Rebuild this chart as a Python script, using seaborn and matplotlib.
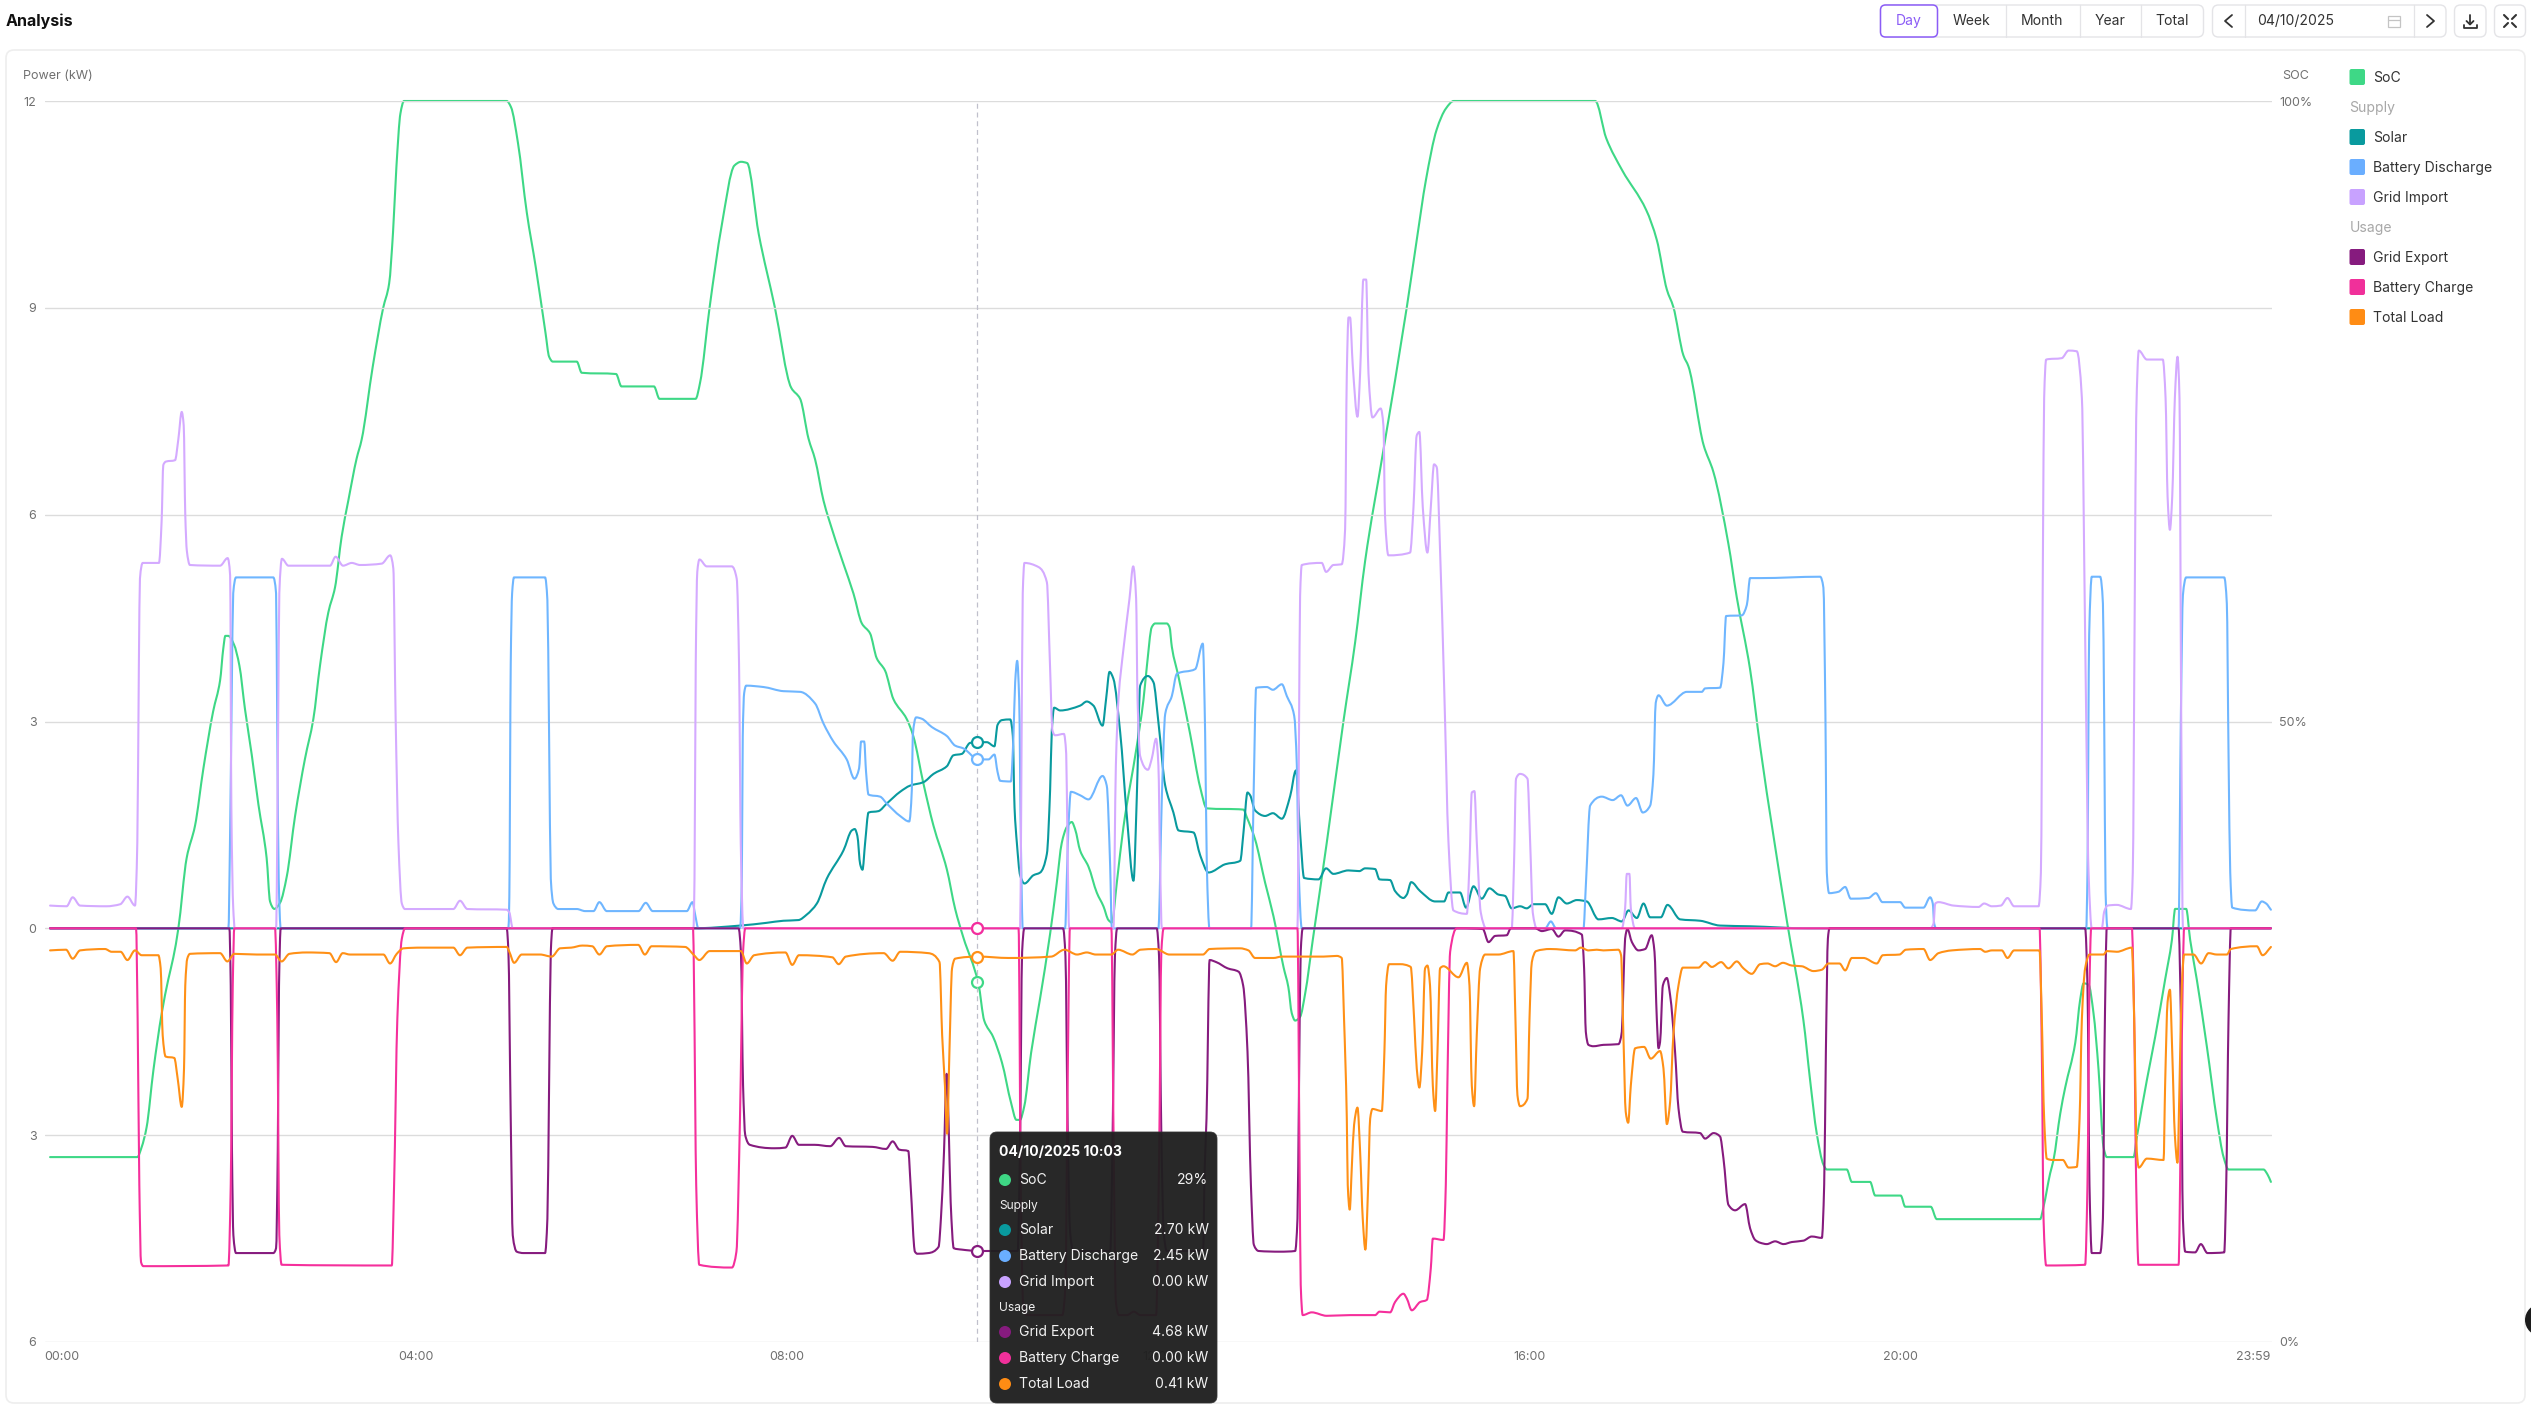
import numpy as np
import seaborn as sns
import matplotlib.pyplot as plt
from matplotlib.patches import FancyBboxPatch, Rectangle, Circle
from matplotlib.patheffects import AbstractPathEffect
from matplotlib.path import Path

W, H = 2531, 1408

# times are minutes after midnight
soc_t = [3.6, 60, 62.8, 66, 70.4, 75.8, 80, 83.3, 86.5, 91.9, 97.3, 102.7, 109, 113.5, 115.6, 116.9, 118.8, 122.5, 126, 129.6, 134, 138.3, 143.6, 145.8, 148.6, 152.3, 156.6, 162, 168.4, 173.8, 178.1, 183.5, 187.8, 192.1, 196.4, 201.8, 205, 212.2, 218.9, 222.8, 225.3, 227.5, 230.1, 232.4, 298.8, 301.6, 306.1, 311.8, 317.6, 323.9, 326.2, 328.6, 344.1, 347.3, 369.5, 373, 394, 397.6, 420.9, 423.8, 430, 437.7, 446, 450.3, 454.2, 461.7, 472.1, 482.7, 488.5, 493.9, 498.2, 503.6, 506.8, 516.5, 523, 528.4, 533.7, 538, 543.4, 548.8, 557.4, 561.7, 568.2, 574.7, 583.3, 588.7, 594, 603.7, 607.5, 613.2, 619, 624.8, 628.3, 630.6, 633.4, 637.8, 643.5, 650.1, 654.4, 657.6, 660.9, 664.1, 666.3, 669.5, 674.9, 680.3, 684.6, 687.8, 690, 693.2, 697.5, 706.1, 710.4, 712.6, 715.8, 718, 725.5, 727.3, 728.8, 733.1, 740.6, 747.1, 751.4, 775.1, 777.2, 782.6, 789.1, 794.5, 801, 804.1, 806.3, 808.5, 811.7, 815, 819.9, 828.9, 839.7, 847.3, 853.7, 865.6, 880.7, 887.1, 893, 900, 906, 911, 1002.5, 1009.6, 1020, 1035.5, 1042.3, 1048.8, 1053, 1059.5, 1062.8, 1072.5, 1078.9, 1088.6, 1094, 1102.6, 1109.1, 1126.3, 1137.1, 1141.4, 1145.7, 1150, 1152.2, 1165.1, 1168.4, 1180.2, 1183.5, 1200, 1202.9, 1219.4, 1223.3, 1290.1, 1292.3, 1296.6, 1298.8, 1303.1, 1306.3, 1312.8, 1316, 1318.2, 1321.4, 1324.6, 1327.9, 1331.1, 1333.2, 1350.5, 1352.6, 1359.1, 1364.5, 1370.9, 1375.3, 1377.4, 1384.5, 1387.1, 1391.4, 1397.9, 1404.4, 1408.7, 1411.9, 1434.5, 1437.1, 1439.3]
soc_pct = [14.9, 14.9, 15.7, 17.3, 21.9, 26.5, 29.2, 31, 33.3, 39, 41.6, 46.2, 50.8, 53.3, 55.9, 56.9, 56.9, 56.2, 54.5, 51, 47.3, 43.3, 39, 35.5, 34.9, 35.4, 37.5, 42.4, 47, 50.2, 54.5, 58.8, 60.8, 64.9, 67.8, 71.2, 72.7, 78.6, 83.3, 85.3, 89.4, 94.7, 99, 100, 100, 99.5, 96.6, 91, 86.6, 81.3, 79.4, 79, 79, 78.1, 78, 77, 77, 76, 76, 77.3, 83.4, 89.9, 94.8, 95.1, 95, 89.3, 83.4, 76.9, 76, 72.8, 71.1, 67.8, 66.4, 62.7, 60.3, 57.9, 57.1, 55.1, 54.1, 51.8, 50.2, 48.8, 45, 41.6, 38.1, 34.9, 32.6, 28.9, 25.9, 24.6, 22.5, 19.3, 17.9, 17.9, 19, 23.3, 27.6, 32.9, 37, 40.2, 41.5, 41.9, 41.3, 39.6, 38.3, 36.2, 35.1, 34, 33.8, 37, 41.5, 48, 51.7, 54.4, 57.6, 57.9, 57.9, 57.6, 56, 53.6, 49, 44.7, 43, 42.9, 42.3, 40.5, 37, 34.3, 30.2, 28.6, 26.5, 25.9, 26.2, 28.1, 32.4, 40.2, 50, 56.4, 62.9, 71.9, 83.4, 88.8, 93.6, 97.7, 99.4, 100, 100, 97, 94.4, 91.2, 88.8, 84.8, 83.4, 79.5, 78.6, 72.3, 70.1, 64.3, 60, 54.2, 48, 34, 25.9, 21.1, 16.8, 14.3, 13.9, 13.9, 12.9, 12.9, 11.8, 11.8, 10.9, 10.9, 9.9, 9.9, 10.9, 13.6, 14.7, 18.4, 20.5, 24.1, 27.6, 28.9, 28.8, 26.5, 21.9, 15.7, 14.9, 14.9, 16.5, 21.1, 24.6, 29.2, 32.4, 34.9, 34.9, 32.4, 29.2, 23.8, 17.9, 14.9, 13.9, 13.9, 13.5, 12.9]

solar_t = [3.6, 419.5, 449.7, 466.9, 477.7, 487.4, 492.8, 499.3, 505.7, 516.5, 521.9, 523.8, 525.5, 527.3, 528.8, 530.5, 532.7, 539.1, 544.5, 553.1, 559.6, 568.2, 574.7, 583.3, 587.6, 593, 598.4, 603.8, 609.2, 614.1, 616.1, 618.9, 624.3, 626, 627.1, 628.6, 630.7, 633.5, 639.3, 643.7, 648, 650.1, 651.2, 652.7, 656.6, 669.5, 673.8, 678.1, 684, 686.3, 688.5, 691, 695.4, 699.7, 704, 706.1, 708.3, 713.3, 716.9, 720.1, 724.5, 729.8, 733.1, 742.8, 747.1, 752.5, 763.3, 773, 775.1, 777.7, 779.4, 782.6, 789.1, 794.1, 799.9, 805.3, 809, 811.7, 814.3, 823.6, 828.5, 833.2, 842.9, 850, 853.7, 860.2, 863, 869.9, 873.1, 878.5, 880.7, 883.5, 889.3, 899, 904.8, 907.6, 915.1, 919, 923.8, 929.1, 934.1, 939.9, 944.2, 948.5, 953.9, 958.2, 962.6, 970.1, 974.4, 978.7, 984.1, 990.6, 997, 1004.6, 1013.2, 1019.7, 1024, 1029.4, 1033.7, 1038, 1044.9, 1049.2, 1057.4, 1070.3, 1083.2, 1102.6, 1140, 1439.3]
solar_kw = [0, 0, 0.04, 0.08, 0.11, 0.12, 0.2, 0.36, 0.72, 1.13, 1.42, 1.44, 1.34, 0.93, 0.85, 1.24, 1.68, 1.7, 1.81, 1.98, 2.07, 2.12, 2.24, 2.35, 2.51, 2.53, 2.69, 2.7, 2.7, 2.64, 2.95, 3.02, 3.03, 2.79, 1.75, 1.24, 0.77, 0.65, 0.77, 0.81, 1.08, 2.01, 2.87, 3.2, 3.16, 3.23, 3.29, 3.23, 2.94, 3.33, 3.72, 3.62, 2.84, 1.63, 0.69, 1.88, 3.52, 3.66, 3.57, 2.99, 2.07, 1.68, 1.42, 1.39, 1.06, 0.81, 0.93, 0.98, 1.39, 1.97, 1.93, 1.71, 1.63, 1.67, 1.59, 1.92, 2.29, 1.39, 0.73, 0.71, 0.87, 0.79, 0.84, 0.83, 0.87, 0.86, 0.71, 0.7, 0.54, 0.44, 0.49, 0.67, 0.54, 0.39, 0.39, 0.52, 0.52, 0.3, 0.61, 0.43, 0.58, 0.49, 0.47, 0.29, 0.32, 0.29, 0.35, 0.35, 0.21, 0.45, 0.36, 0.41, 0.39, 0.13, 0.15, 0.1, 0.26, 0.15, 0.36, 0.16, 0.16, 0.34, 0.13, 0.11, 0.04, 0.03, 0, 0]

discharge_t = [3.6, 118.9, 119.9, 121, 122, 123.8, 147.9, 149.7, 150.5, 151.4, 152.7, 299.9, 300.5, 301.4, 302.3, 303.5, 323.6, 325.1, 326.2, 327.3, 329, 332.2, 344.1, 349.5, 354.9, 358.7, 363.5, 384, 388.7, 393.2, 415.2, 418.9, 420.6, 422.7, 449.7, 450.8, 451.4, 452.3, 453.6, 464.8, 477.7, 488.5, 498.2, 503.6, 510, 518.6, 523.6, 526.6, 527.9, 529.9, 531.1, 532.7, 540.2, 544.5, 553.1, 559, 560.7, 561.3, 563.5, 567.1, 573.6, 583.3, 588.7, 594, 603.8, 610.2, 614.1, 616.1, 617.8, 624.7, 626.4, 627.5, 628.8, 630.1, 631.2, 632.4, 659.8, 660.9, 662, 663.5, 669.5, 674.9, 684, 686.7, 688.9, 690, 720.1, 722.3, 724.5, 728.8, 732, 743.9, 748.8, 750.3, 751.4, 753.1, 780, 781.6, 783.3, 790.2, 794.1, 799.9, 803.1, 807.9, 809.6, 810.7, 812.8, 970.1, 973.8, 977.2, 994.9, 996.4, 999.2, 1006.7, 1013.8, 1019.2, 1023.3, 1028.9, 1033.2, 1038, 1040.1, 1041.6, 1043.4, 1048.8, 1061.7, 1071.4, 1073.5, 1083.2, 1085.4, 1087.1, 1097.3, 1100.5, 1102.6, 1109.1, 1147.9, 1150, 1151.3, 1152.2, 1153.7, 1159.7, 1164.1, 1167.7, 1179.1, 1183.9, 1188.2, 1199.6, 1202.9, 1214.7, 1219, 1220.7, 1221.6, 1222.9, 1319.9, 1320.7, 1321.8, 1323.5, 1328.9, 1330.7, 1331.5, 1332.4, 1333.7, 1379.6, 1381.1, 1382.4, 1384.5, 1409.1, 1410.8, 1411.9, 1413, 1414.3, 1429.1, 1433.4, 1436.2, 1439.3]
discharge_kw = [0, 0, 1.24, 3.31, 4.86, 5.09, 5.09, 4.86, 2.79, 0.72, 0, 0, 0.46, 3.83, 4.86, 5.09, 5.09, 4.76, 2.79, 0.72, 0.36, 0.28, 0.28, 0.25, 0.25, 0.38, 0.25, 0.25, 0.37, 0.25, 0.25, 0.38, 0.2, 0, 0, 0.72, 2.79, 3.41, 3.52, 3.5, 3.44, 3.43, 3.26, 2.97, 2.71, 2.45, 2.17, 2.32, 2.71, 2.71, 2.27, 1.94, 1.91, 1.81, 1.63, 1.55, 2.01, 2.79, 3.06, 3.04, 2.92, 2.79, 2.65, 2.61, 2.45, 2.45, 2.52, 2.27, 2.14, 2.13, 2.79, 3.57, 3.88, 3.31, 1.24, 0, 0, 0.72, 1.5, 1.98, 1.93, 1.87, 2.21, 2.07, 0.91, 0, 0, 1.88, 3.11, 3.37, 3.69, 3.76, 4.13, 2.84, 0.91, 0, 0, 1.88, 3.49, 3.5, 3.46, 3.54, 3.37, 3.08, 2.36, 0.91, 0, 0, 0.1, 0, 0, 0.61, 1.78, 1.91, 1.86, 1.93, 1.78, 1.89, 1.68, 1.78, 2.23, 3.27, 3.38, 3.23, 3.43, 3.43, 3.48, 3.49, 3.85, 4.53, 4.54, 4.69, 5.08, 5.08, 5.1, 4.94, 3.1, 0.81, 0.51, 0.53, 0.6, 0.43, 0.44, 0.51, 0.38, 0.38, 0.3, 0.3, 0.45, 0.36, 0.07, 0, 0, 0.81, 4.25, 5.1, 5.1, 4.71, 3.1, 0.53, 0, 0, 3.1, 4.83, 5.09, 5.09, 4.71, 2.53, 0.81, 0.3, 0.26, 0.39, 0.36, 0.27]

grid_import_t = [3.6, 14.3, 18.2, 23, 40, 49, 53.6, 58.5, 60, 61, 61.7, 63.5, 74, 75.7, 76.8, 78.5, 84.4, 86.5, 88.7, 90, 91, 92, 94, 113.5, 118.4, 120, 120.8, 122, 123, 149.7, 151, 151.8, 153.5, 157.7, 184.6, 188.2, 193, 198.6, 204, 218, 223.5, 225.5, 227, 228.8, 231, 233, 264.3, 268.6, 273.4, 298.8, 300.5, 302.7, 419.5, 420.2, 421, 422, 423.4, 428.1, 444.3, 447.5, 449, 450.1, 451.8, 630.7, 631.4, 632.4, 633.5, 642.6, 648, 650, 651.6, 653.3, 659, 660.5, 661.3, 662.4, 691, 692.6, 694.3, 697.5, 701.4, 703.8, 705.7, 706.6, 708.3, 713.3, 715.8, 718.6, 720.1, 721.2, 722.3, 810, 811, 811.7, 812.8, 825.7, 828.5, 833.2, 838.6, 840.8, 841.9, 843, 844, 845.7, 848.8, 850.5, 852.6, 854.4, 855.9, 858.5, 863.8, 865.6, 866.6, 868.8, 882.8, 885, 887.1, 888.8, 891, 894, 896.2, 898.3, 900, 902.2, 904.8, 907.6, 910.8, 919.5, 921.2, 922.7, 924.4, 925.9, 928.5, 932, 948.5, 950, 951.3, 953.9, 958.7, 960.4, 962.1, 964.7, 1019.7, 1021.8, 1022.9, 1024.6, 1025.5, 1028.3, 1219, 1221.2, 1222.3, 1224.4, 1234.1, 1250.3, 1253.9, 1258.9, 1264.7, 1269, 1273.3, 1289.1, 1290.6, 1291.9, 1292.7, 1294, 1304.1, 1308.5, 1313.8, 1317.1, 1319.2, 1321.4, 1323.5, 1330, 1331.5, 1333.7, 1339.7, 1348.8, 1350, 1351.3, 1352.2, 1353.9, 1359.1, 1369.4, 1371.2, 1372.5, 1374, 1375.5, 1377.2, 1378.9, 1380.2, 1381.3, 1382.4, 1439.3]
grid_import_kw = [0.33, 0.32, 0.45, 0.33, 0.32, 0.35, 0.46, 0.33, 1.24, 3.8, 5.07, 5.3, 5.3, 5.9, 6.72, 6.77, 6.79, 7.09, 7.49, 7.29, 6, 5.48, 5.27, 5.26, 5.37, 5.12, 1.75, 0.3, 0, 0, 2.8, 4.86, 5.36, 5.26, 5.26, 5.39, 5.26, 5.3, 5.27, 5.29, 5.41, 5.22, 3.05, 1.24, 0.36, 0.28, 0.28, 0.4, 0.28, 0.27, 0.23, 0, 0, 0.72, 3.83, 5.17, 5.35, 5.25, 5.25, 5.07, 3.83, 1.24, 0, 0, 1.75, 4.86, 5.3, 5.24, 5.02, 3.83, 2.87, 2.8, 2.82, 2.53, 1.24, 0, 0, 2.36, 3.33, 4.05, 4.78, 5.25, 4.78, 3.33, 2.5, 2.3, 2.46, 2.75, 2.36, 0.91, 0, 0, 2.88, 4.82, 5.27, 5.3, 5.17, 5.27, 5.28, 5.79, 8.05, 8.86, 8.86, 8.18, 7.42, 8.05, 9.41, 9.41, 8.05, 7.41, 7.54, 7.28, 5.98, 5.41, 5.45, 6.11, 7.15, 7.2, 6.11, 5.45, 6.11, 6.73, 6.69, 5.47, 3.53, 1.26, 0.26, 0.21, 0.94, 1.97, 1.99, 1.26, 0.23, 0, 0, 0.94, 2.17, 2.24, 2.17, 1.26, 0.23, 0, 0, 0.29, 0.79, 0.79, 0.29, 0, 0, 0.07, 0.36, 0.38, 0.33, 0.31, 0.36, 0.32, 0.33, 0.44, 0.32, 0.32, 0.81, 5.4, 7.69, 8.25, 8.27, 8.38, 8.37, 7.69, 4.25, 0.81, 0, 0, 0.24, 0.33, 0.34, 0.28, 0.81, 4.83, 7.4, 8.38, 8.25, 8.25, 7.69, 6.26, 5.78, 6.26, 7.69, 8.29, 7.69, 3.1, 0, 0]

grid_export_t = [3.6, 119.5, 120.4, 121.2, 122.1, 123.8, 147.9, 149.7, 150.8, 151.6, 152.7, 298.8, 299.9, 301.4, 302.7, 305.3, 309.6, 323.6, 325.1, 326.2, 327.3, 328.4, 448.7, 450.2, 451.6, 453, 456, 471.8, 479, 483.4, 487.7, 497.8, 507.9, 513.7, 518, 535.3, 544, 548.3, 552.6, 558.4, 559.9, 562.7, 564.2, 571.4, 578, 579.5, 581.5, 583.2, 584.4, 585.8, 587.8, 593, 603.7, 629.1, 630.6, 632, 633.4, 658.5, 660, 661.5, 663, 665, 689, 690.5, 692, 693.4, 719, 720.5, 722, 723.5, 725.5, 749, 750, 751.2, 753.2, 757.5, 764.8, 772, 774.9, 777.7, 779.9, 781.8, 784.9, 798.8, 808.5, 810, 811, 812.1, 813.4, 915.1, 929.8, 933.5, 937.8, 945.3, 947.9, 963.6, 968, 974.4, 978.7, 983, 993.8, 995.3, 996.4, 998.1, 1001.3, 1007.8, 1017.5, 1019.7, 1020.7, 1021.8, 1023.3, 1026.2, 1030.4, 1034.8, 1039, 1040.8, 1042.3, 1043.4, 1044.4, 1046.2, 1048.8, 1050.9, 1054.1, 1056.3, 1059.1, 1070.3, 1073.5, 1079, 1083.2, 1085.4, 1088.6, 1092.9, 1099.4, 1102.6, 1105.9, 1109.1, 1113.4, 1118.8, 1124.2, 1129.6, 1137.1, 1142.5, 1149, 1150.5, 1151.6, 1152.9, 1153.9, 1319.2, 1320.7, 1322, 1323.5, 1328.9, 1330.7, 1331.7, 1333.2, 1379.6, 1381.1, 1382.4, 1383.9, 1390.3, 1394, 1398.3, 1409.1, 1410.4, 1411.9, 1413.4, 1439.3]
grid_export_kw = [0, 0, -0.83, -3.24, -4.45, -4.71, -4.71, -4.64, -3.24, -0.83, 0, 0, -0.34, -2.76, -4.45, -4.69, -4.71, -4.71, -4.21, -2.28, -0.34, 0, 0, -0.34, -2.28, -3, -3.14, -3.19, -3.18, -3.01, -3.14, -3.14, -3.16, -3.04, -3.16, -3.17, -3.2, -3.09, -3.21, -3.23, -3.72, -4.69, -4.72, -4.71, -4.62, -4.21, -3.24, -2.11, -2.76, -3.97, -4.64, -4.66, -4.68, -4.68, -3.24, -0.34, 0, 0, -0.4, -3, -4.4, -4.68, -4.68, -3, -0.4, 0, 0, -0.4, -3, -4.4, -4.68, -4.68, -3.5, -2.76, -0.46, -0.49, -0.58, -0.63, -0.83, -1.79, -3.72, -4.59, -4.68, -4.69, -4.68, -4.21, -2.28, -0.34, 0, 0, -0.01, -0.2, -0.11, -0.1, 0, 0, -0.04, -0.01, -0.12, -0.03, -0.09, -0.58, -1.5, -1.69, -1.71, -1.69, -1.68, -1.5, -0.83, -0.15, -0.01, -0.2, -0.32, -0.3, -0.1, -0.34, -1.31, -1.74, -1.65, -0.83, -0.72, -0.97, -1.79, -2.61, -2.95, -2.97, -3.05, -2.97, -3.02, -3.34, -4.01, -4.09, -4, -4.35, -4.52, -4.56, -4.58, -4.54, -4.58, -4.55, -4.53, -4.47, -4.49, -3.72, -1.79, -0.15, 0, 0, -0.83, -3.72, -4.71, -4.71, -4.21, -1.79, 0, 0, -1.31, -4.21, -4.69, -4.7, -4.58, -4.71, -4.7, -3.72, -1.31, 0, 0]

battery_charge_t = [3.6, 59.2, 60.2, 61.3, 62.4, 63.9, 118.9, 120.4, 121.7, 122.7, 149, 150.5, 151.8, 153.3, 224.5, 226, 228.1, 231, 233.1, 419.3, 419.9, 421.3, 423.3, 444.4, 447.3, 449.6, 451.6, 453, 629.7, 631.1, 632.6, 634.9, 658, 660, 661.4, 662.9, 689.7, 691.2, 692.6, 694.6, 699.8, 704.2, 708.5, 718.6, 720.6, 722, 723.5, 810, 811.3, 812.1, 813.4, 819.2, 828.9, 844, 860.2, 863, 869.9, 873.1, 878.5, 880.7, 883.9, 889.3, 893.6, 896.2, 897.5, 904.4, 905.9, 906.9, 908.7, 913, 1289.7, 1291.2, 1292.3, 1294, 1319.2, 1320.7, 1322, 1323.1, 1349.4, 1350.9, 1352.2, 1353.7, 1379.6, 1381.1, 1382.4, 1383.2, 1439.3]
battery_charge_kw = [0, 0, -1.31, -3.72, -4.84, -4.9, -4.89, -3.72, -0.83, 0, 0, -1.31, -4.45, -4.88, -4.89, -3.72, -1.31, -0.15, 0, 0, -0.83, -3.72, -4.88, -4.92, -4.69, -2.76, -0.34, 0, 0, -3.72, -5.42, -5.61, -5.61, -5.17, -2.28, 0, 0, -3.24, -5.42, -5.61, -5.61, -5.56, -5.61, -5.61, -3.24, -0.34, 0, 0, -3.24, -5.17, -5.61, -5.57, -5.62, -5.61, -5.61, -5.56, -5.57, -5.42, -5.3, -5.37, -5.54, -5.42, -5.39, -4.93, -4.5, -4.52, -3.72, -2.28, -0.34, 0, 0, -1.79, -4.21, -4.89, -4.88, -3.72, -0.83, 0, 0, -1.31, -3.72, -4.88, -4.88, -2.76, -0.58, 0, 0]

total_load_t = [3.6, 13.9, 18.2, 23, 39.1, 43.4, 49.2, 53.6, 58.5, 62.8, 73.6, 75.1, 76.4, 78.3, 83.9, 86.1, 88.7, 90.2, 91, 92.3, 94, 113.5, 118.2, 122.7, 137.2, 149, 153.3, 158.3, 169.5, 184.2, 188.5, 192.8, 197.5, 219.1, 223.4, 227.7, 232, 243.8, 264.3, 268.6, 273.4, 298.8, 300.5, 303.6, 308.5, 320.4, 327.9, 333.3, 340.5, 347.7, 354.1, 358.7, 363.6, 383.8, 388.1, 392.5, 414.1, 419.9, 423.3, 430, 450.2, 454, 458.8, 479, 483.4, 487.7, 509.3, 513.4, 518, 542.5, 548.3, 553.2, 571.4, 578.6, 580.3, 582.1, 583.5, 585, 586.7, 588.7, 603.7, 623.3, 650.8, 659.4, 667.5, 673.8, 679.6, 689.7, 694, 703.3, 708.5, 718.6, 727.2, 748.9, 753.2, 772.9, 778.3, 782.6, 794.5, 799.8, 826.8, 835.4, 838.6, 840.1, 841.9, 842.5, 843.8, 845.1, 846.6, 848.8, 850.5, 852.2, 853.9, 855.7, 857, 858.5, 864.5, 866.2, 867.3, 869.2, 876.3, 883.2, 885.4, 887.1, 888.8, 890.6, 892.5, 894, 895.7, 897.5, 899, 900.5, 902.2, 904.4, 914.1, 919.5, 921.2, 922.7, 924.2, 925.9, 928.1, 931.3, 939.9, 949.6, 950.9, 952.2, 953.9, 958.7, 960, 961.5, 964.3, 973.3, 989.5, 993.2, 998.1, 1003.5, 1007.8, 1017.5, 1019.2, 1020.7, 1022.2, 1023.8, 1025.5, 1028.3, 1034.1, 1038.4, 1044.4, 1046.6, 1048.8, 1050.9, 1053, 1056.3, 1059.1, 1069.2, 1073.5, 1077.9, 1083.9, 1088.6, 1094, 1098.3, 1103.7, 1109.1, 1113.8, 1118.8, 1123.8, 1129.6, 1136, 1143.6, 1149, 1153.3, 1160.4, 1164.1, 1168.4, 1175.9, 1184.5, 1188.4, 1199.2, 1203.3, 1214.7, 1219, 1224.4, 1233, 1251.3, 1254.6, 1258.9, 1265.3, 1269, 1273.3, 1289.7, 1291.2, 1292.7, 1294.4, 1298.3, 1304.8, 1308.5, 1313.8, 1315.6, 1317.1, 1319.2, 1322, 1331.1, 1333.2, 1339.7, 1349.4, 1350.9, 1352.6, 1353.9, 1359.1, 1369.9, 1370.9, 1372.5, 1374, 1375.5, 1377.2, 1378.9, 1380.2, 1381.7, 1383.2, 1389.3, 1394.2, 1399, 1404.4, 1410.8, 1413.4, 1430.2, 1433.9, 1439.3]
total_load_kw = [-0.32, -0.31, -0.44, -0.32, -0.3, -0.34, -0.34, -0.46, -0.32, -0.39, -0.39, -0.58, -1.55, -1.86, -1.88, -2.18, -2.59, -2.03, -0.83, -0.44, -0.37, -0.36, -0.48, -0.37, -0.38, -0.38, -0.48, -0.37, -0.35, -0.36, -0.49, -0.36, -0.38, -0.38, -0.51, -0.37, -0.29, -0.28, -0.28, -0.39, -0.28, -0.27, -0.34, -0.5, -0.38, -0.38, -0.41, -0.29, -0.28, -0.25, -0.26, -0.38, -0.26, -0.24, -0.38, -0.26, -0.27, -0.39, -0.46, -0.33, -0.33, -0.51, -0.39, -0.35, -0.53, -0.39, -0.42, -0.52, -0.41, -0.36, -0.47, -0.34, -0.36, -0.49, -1.55, -2.28, -2.98, -1.79, -0.58, -0.44, -0.41, -0.43, -0.41, -0.31, -0.38, -0.35, -0.38, -0.38, -0.31, -0.38, -0.31, -0.3, -0.38, -0.38, -0.3, -0.29, -0.32, -0.43, -0.43, -0.41, -0.41, -0.4, -0.43, -1.31, -2.76, -3.72, -4.08, -3.48, -2.85, -2.6, -3.24, -4.21, -4.66, -3.72, -2.76, -2.62, -2.65, -1.79, -0.83, -0.52, -0.52, -0.56, -1.31, -2.03, -2.31, -1.79, -0.58, -0.54, -0.83, -2.28, -2.65, -1.79, -0.58, -0.55, -0.71, -0.5, -0.83, -2.28, -2.58, -1.55, -0.58, -0.38, -0.38, -0.33, -1.31, -2.42, -2.58, -2.47, -1.31, -0.49, -0.33, -0.3, -0.32, -0.28, -0.32, -0.31, -0.32, -0.31, -0.39, -1.55, -2.66, -2.82, -2.28, -1.74, -1.72, -1.89, -1.78, -2.03, -2.84, -2.52, -1.55, -0.83, -0.57, -0.57, -0.49, -0.56, -0.49, -0.58, -0.48, -0.58, -0.66, -0.52, -0.51, -0.55, -0.5, -0.54, -0.55, -0.62, -0.6, -0.51, -0.51, -0.61, -0.43, -0.43, -0.51, -0.39, -0.38, -0.31, -0.3, -0.46, -0.36, -0.32, -0.3, -0.34, -0.32, -0.32, -0.43, -0.32, -0.32, -1.31, -2.76, -3.34, -3.36, -3.36, -3.47, -3.46, -2.76, -1.31, -0.58, -0.38, -0.38, -0.33, -0.34, -0.28, -1.31, -3.24, -3.47, -3.34, -3.36, -2.28, -1.07, -0.89, -1.79, -3, -3.4, -2.28, -0.83, -0.38, -0.38, -0.51, -0.36, -0.38, -0.38, -0.3, -0.26, -0.39, -0.27]

power_ticks = [12, 9, 6, 3, 0, -3, -6]
power_labels = ["12", "9", "6", "3", "0", "3", "6"]
soc_ticks = [100, 50, 0]
soc_labels = ["100%", "50%", "0%"]
time_ticks = [0, 240, 480, 720, 960, 1200, 1439]
time_labels = ["00:00", "04:00", "08:00", "12:00", "16:00", "20:00", "23:59"]

hover_time = 603
hover_soc = 29
hover_solar = 2.70
hover_discharge = 2.45
hover_import = 0.00
hover_export = 4.68
hover_charge = 0.00
hover_load = 0.41

GREEN = "#3ed886"
TEAL = "#099a9e"
BLUE = "#6fb6ff"
LILAC = "#d4aaff"
PLUM = "#861b7e"
PINK = "#f52f9c"
ORANGE = "#ff9016"
LW = 1.5


class MonotoneCurve(AbstractPathEffect):
    # strokes the line as a monotone cubic through its own points, as the dashboard does
    def draw_path(self, renderer, gc, tpath, affine, rgbFace=None):
        x, y = tpath.vertices.T
        h = np.maximum(np.diff(x), 1e-6)
        s = np.diff(y) / h
        m = np.zeros_like(x)
        m[0], m[-1] = s[0], s[-1]
        for i in range(1, len(x) - 1):
            if s[i - 1] * s[i] > 0:
                w1, w2 = 2 * h[i] + h[i - 1], h[i] + 2 * h[i - 1]
                m[i] = (w1 + w2) / (w1 / s[i - 1] + w2 / s[i])
        verts = [(x[0], y[0])]
        codes = [Path.MOVETO]
        for i in range(len(h)):
            d = h[i] / 3
            verts += [(x[i] + d, y[i] + m[i] * d), (x[i + 1] - d, y[i + 1] - m[i + 1] * d), (x[i + 1], y[i + 1])]
            codes += [Path.CURVE4] * 3
        renderer.draw_path(gc, Path(verts, codes), affine, None)


sns.set_theme(style="white")
plt.rcParams["font.family"] = ["Inter", "Noto Sans", "DejaVu Sans"]


def px(size):
    return size * 0.72


fig = plt.figure(figsize=(W / 100, H / 100), dpi=100, facecolor="white")
ax = fig.add_axes([44.5 / W, 1 - 1342 / H, 2227.5 / W, 1241 / H])
ax2 = ax.twinx()
ax.set_zorder(ax2.get_zorder() + 1)
ax.patch.set_visible(False)

# SoC has its own 0-100% axis, the power axis runs -6..12
sns.lineplot(x=soc_t, y=soc_pct, ax=ax2, color=GREEN, linewidth=LW, clip_on=False)
ax2.lines[-1].set_path_effects([MonotoneCurve()])
for t, v, c in [(solar_t, solar_kw, TEAL), (discharge_t, discharge_kw, BLUE),
                (grid_import_t, grid_import_kw, LILAC), (grid_export_t, grid_export_kw, PLUM),
                (battery_charge_t, battery_charge_kw, PINK), (total_load_t, total_load_kw, ORANGE)]:
    sns.lineplot(x=t, y=v, ax=ax, color=c, linewidth=LW, clip_on=False)
    ax.lines[-1].set_path_effects([MonotoneCurve()])

ax.set_xlim(0, 1440)
ax.set_ylim(-6, 12)
ax2.set_ylim(0, 100)
ax.set_xlabel("")
ax.set_ylabel("")
ax.set_yticks(power_ticks)
ax.set_yticklabels(power_labels)
ax.set_xticks(time_ticks)
ax.set_xticklabels(time_labels)
ax.get_xticklabels()[0].set_ha("left")
ax.get_xticklabels()[-1].set_ha("right")
ax2.set_yticks(soc_ticks)
ax2.set_yticklabels(soc_labels)
ax.grid(axis="y", color="#dcdcdc", linewidth=1)
ax.set_axisbelow(True)
ax.tick_params(axis="y", length=0, pad=5.8, labelsize=px(12.5), labelcolor="#707070")
ax.tick_params(axis="x", length=0, pad=6.5, labelsize=px(12.5), labelcolor="#707070")
ax2.tick_params(axis="y", length=0, pad=5, labelsize=px(12.5), labelcolor="#707070")
for a in (ax, ax2):
    sns.despine(ax=a, left=True, bottom=True, right=True, top=True)

# hovered time
ax.axvline(hover_time, color="#c0c0cc", linewidth=0.9, linestyle=(0, (4, 3)))
sns.scatterplot(x=[hover_time], y=[hover_soc], ax=ax2, s=62, color="white", edgecolor=GREEN, linewidth=1.6, zorder=10)
for v, c in [(hover_solar, TEAL), (hover_discharge, BLUE), (hover_import, LILAC),
             (-hover_export, PLUM), (-hover_charge, PINK), (-hover_load, ORANGE)]:
    sns.scatterplot(x=[hover_time], y=[v], ax=ax, s=62, color="white", edgecolor=c, linewidth=1.6, zorder=10, clip_on=False)

# page furniture, in pixels of the screenshot
ui = fig.add_axes([0, 0, 1, 1], zorder=20)
ui.set_xlim(0, W)
ui.set_ylim(H, 0)
ui.axis("off")


def box(x0, y0, x1, y1, r=6, fc="none", ec="#e4e4e7", lw=1.0, alpha=None, z=1):
    ui.add_patch(FancyBboxPatch((x0, y0), x1 - x0, y1 - y0, boxstyle=f"round,pad=0,rounding_size={r}",
                                fc=fc, ec=ec, lw=lw, alpha=alpha, zorder=z))


def label(x, y, s, size=14, color="#333333", ha="left", weight="normal", z=5):
    ui.text(x, y, s, fontsize=px(size), color=color, ha=ha, va="center", fontweight=weight, zorder=z)


def stroke(xs, ys, color="#333333", lw=1.2):
    ui.plot(xs, ys, color=color, lw=lw, solid_capstyle="round", zorder=5)


label(6, 21, "Analysis", size=16, color="#111111", weight="bold")
box(6, 50, 2525, 1403, r=8, ec="#eeeeee", lw=1.2)
label(23, 76, "Power (kW)", size=12.5, color="#707070")
label(2296, 76, "SOC", size=12.5, color="#707070", ha="center")

# period buttons
box(1880.5, 5, 2203.5, 37, r=6)
for x in [2005.5, 2079.5, 2140.5]:
    stroke([x, x], [5, 37], color="#e4e4e7", lw=0.9)
box(1880.5, 5, 1937.5, 37, r=5, fc="white", ec="#8b5cf6", lw=1.1, z=2)
label(1909, 21, "Day", color="#8b5cf6", ha="center", size=14)
for x, s in [(1971.5, "Week"), (2042.5, "Month"), (2110.5, "Year"), (2172, "Total")]:
    label(x, 21, s, ha="center", size=14)
box(2212.5, 5, 2446, 37, r=6)
stroke([2244.5, 2244.5], [5, 37], color="#e4e4e7", lw=0.9)
stroke([2413.5, 2413.5], [5, 37], color="#e4e4e7", lw=0.9)
stroke([2232, 2225, 2232], [15, 21, 27], lw=1.3)
stroke([2427, 2434, 2427], [15, 21, 27], lw=1.3)
label(2257, 21, "04/10/2025", size=14)
ui.add_patch(Rectangle((2388, 16), 12, 11, fc="none", ec="#c4c4c4", lw=0.9, zorder=5))
stroke([2388, 2400], [19.5, 19.5], color="#c4c4c4", lw=0.9)
box(2454.5, 5, 2486, 37, r=6)
stroke([2470, 2470], [15, 24], lw=1.3)
stroke([2466.5, 2470, 2473.5], [21, 24.5, 21], lw=1.3)
stroke([2463.5, 2463.5, 2476.5, 2476.5], [25, 27.5, 27.5, 25], lw=1.3)
box(2494.5, 5, 2525.5, 37, r=6)
for sx, sy in [(-1, -1), (1, -1), (-1, 1), (1, 1)]:
    stroke([2510 + sx * 2, 2510 + sx * 6], [21 + sy * 2, 21 + sy * 6], lw=1.5)

# legend
for y, s, c in [(77, "SoC", GREEN), (137, "Solar", TEAL), (167, "Battery Discharge", "#6aaeff"),
                (197, "Grid Import", "#c8a2ff"), (257, "Grid Export", PLUM),
                (287, "Battery Charge", "#f0309a"), (317, "Total Load", "#ff8c14")]:
    box(2349.5, y - 8, 2365, y + 8, r=2, fc=c, ec="none")
    label(2373, y + 1, s, size=14)
label(2349.5, 108, "Supply", size=14, color="#a8a8a8")
label(2349.5, 228, "Usage", size=14, color="#a8a8a8")

# tooltip
box(990, 1132, 1217, 1403, r=7, fc="#1f1f1f", ec="#333333", lw=0.6, alpha=0.96, z=3)
label(999, 1152, "04/10/2025 10:03", size=14, color="white", weight="bold")
label(999, 1206, "Supply", size=12, color="#f0f0f0")
label(999, 1308, "Usage", size=12, color="#f0f0f0")
rows = [(1180, "SoC", f"{hover_soc}%", "#3ed684"),
        (1230, "Solar", f"{hover_solar:.2f} kW", TEAL),
        (1256, "Battery Discharge", f"{hover_discharge:.2f} kW", "#6aaeff"),
        (1282, "Grid Import", f"{hover_import:.2f} kW", "#c8a2ff"),
        (1332, "Grid Export", f"{hover_export:.2f} kW", PLUM),
        (1358, "Battery Charge", f"{hover_charge:.2f} kW", "#f0309a"),
        (1384, "Total Load", f"{hover_load:.2f} kW", "#ff8c14")]
for y, name, val, c in rows:
    ui.add_patch(Circle((1005, y), 6, fc=c, ec="none", zorder=5))
    label(1019, y, name, size=14, color="#f2f2f2")
    label(1208.5, y, val, size=14, color="#f2f2f2", ha="right")

# corner of a floating button at the window edge
ui.add_patch(Circle((2541, 1320), 16, fc="#1c1c1c", ec="none", clip_on=True, zorder=5))

fig.savefig("out.png", dpi=100)
